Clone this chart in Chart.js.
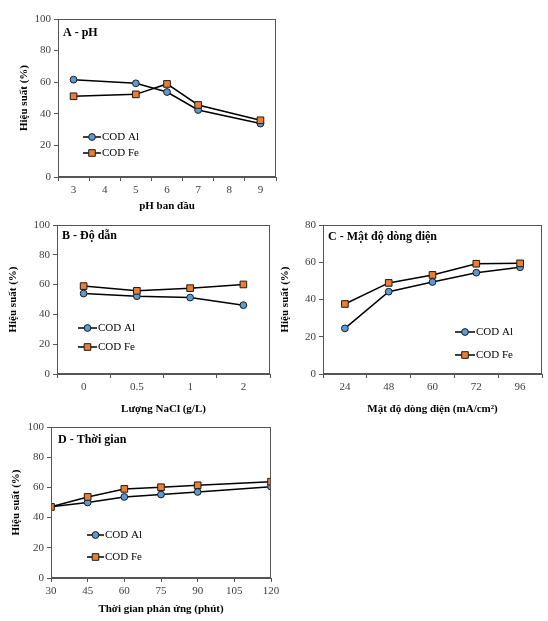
<!DOCTYPE html>
<html><head><meta charset="utf-8">
<script src="https://cdn.jsdelivr.net/npm/chart.js@4.4.1/dist/chart.umd.min.js"></script>
<style>
html,body{margin:0;padding:0;background:#fff;}
body{width:548px;height:621px;position:relative;overflow:hidden;}
canvas{position:absolute;}
</style></head><body>
<canvas id="cA" width="290" height="215" style="left:0;top:0;width:290px;height:215px"></canvas>
<canvas id="cB" width="285" height="208" style="left:0;top:212px;width:285px;height:208px"></canvas>
<canvas id="cC" width="273" height="208" style="left:275px;top:212px;width:273px;height:208px"></canvas>
<canvas id="cD" width="290" height="206" style="left:0;top:415px;width:290px;height:206px"></canvas>
<script>
// ---- data ----
const seriesNames = ['COD Al', 'COD Fe'];
const yTitle = 'Hiệu suất (%)';

const pHLabels = ['3', '4', '5', '6', '7', '8', '9'];
const pHAl = [61.6, null, 59.3, 53.8, 42.4, null, 33.8];
const pHFe = [51.1, null, 52.3, 58.9, 45.6, null, 35.9];

const naclLabels = ['0', '0.5', '1', '2'];
const naclAl = [54.0, 52.2, 51.3, 46.2];
const naclFe = [59.0, 55.8, 57.6, 60.1];

const currentLabels = ['24', '48', '60', '72', '96'];
const currentAl = [24.5, 44.2, 49.4, 54.4, 57.3];
const currentFe = [37.6, 48.9, 53.2, 59.2, 59.4];

const timeX = [30, 45, 60, 75, 90, 120];
const timeAl = [47.1, 50.0, 53.7, 55.3, 57.0, 60.5];
const timeFe = [47.1, 53.7, 59.0, 60.1, 61.4, 63.8];

// ---- styling ----
Chart.defaults.font.family = '"Liberation Serif", "Times New Roman", serif';
Chart.defaults.font.size = 11;
const AXC = '#555555';
const TICKC = '#404040';
const BLUE = '#5B9BD5';
const ORANGE = '#ED7D31';

function mkDatasets(al, fe) {
  return [
    { label: seriesNames[0], data: al, borderColor: '#000', borderWidth: 1.5,
      pointStyle: 'circle', pointRadius: 3.4, pointBackgroundColor: BLUE,
      pointBorderColor: '#1b1b1b', pointBorderWidth: 1, spanGaps: true, order: 1, tension: 0 },
    { label: seriesNames[1], data: fe, borderColor: '#000', borderWidth: 1.5,
      pointStyle: 'rect', pointRadius: 4.7, pointBackgroundColor: ORANGE,
      pointBorderColor: '#1b1b1b', pointBorderWidth: 1, spanGaps: true, order: 0, tension: 0 }
  ];
}

const decor = {
  id: 'decor',
  afterDraw(chart, args, o) {
    const { ctx, chartArea: a } = chart;
    ctx.save();
    ctx.strokeStyle = AXC; ctx.lineWidth = 1;
    const L = Math.round(a.left) + 0.5, T = Math.round(a.top) + 0.5;
    const R = Math.round(a.right) - 0.5, B = Math.round(a.bottom) - 0.5;
    ctx.strokeRect(L, T, R - L, B - T);
    ctx.fillStyle = '#000';
    ctx.textBaseline = 'middle'; ctx.textAlign = 'left';
    ctx.font = 'bold 12px "Liberation Serif", "Times New Roman", serif';
    ctx.fillText(o.title, a.left + o.tx, a.top + o.ty);
    ctx.font = '11px "Liberation Serif", "Times New Roman", serif';
    chart.data.datasets.forEach((ds, i) => {
      const y = o.absY ? o.ly[i] - o.canvasTop : a.bottom + o.ly[i];
      const x0 = o.lxAbs - o.canvasLeft;
      ctx.beginPath(); ctx.moveTo(x0, y); ctx.lineTo(x0 + o.lw, y);
      ctx.strokeStyle = '#000'; ctx.lineWidth = 1.5; ctx.stroke();
      const cx = x0 + o.lw / 2;
      ctx.fillStyle = ds.pointBackgroundColor; ctx.strokeStyle = '#1b1b1b'; ctx.lineWidth = 1;
      ctx.beginPath();
      if (ds.pointStyle === 'circle') ctx.arc(cx, y, 3.4, 0, Math.PI * 2);
      else ctx.rect(cx - 3.3, y - 3.3, 6.6, 6.6);
      ctx.fill(); ctx.stroke();
      ctx.fillStyle = '#000';
      ctx.fillText(ds.label, x0 + o.lw + 1, y + 0.5);
    });
    ctx.restore();
  }
};

function mkScales(cfg) {
  const x = {
    type: cfg.xType,
    offset: cfg.xType === 'category',
    grid: { display: true, drawOnChartArea: false, drawTicks: true, tickLength: 4, color: AXC, offset: cfg.xType === 'category' },
    border: { display: true, color: AXC, width: 1 },
    ticks: { color: TICKC, padding: 3, maxRotation: 0, autoSkip: false, font: { size: 11 } },
    title: { display: true, text: cfg.xTitle, color: '#000', font: { size: 11, weight: 'bold' }, padding: { top: 0, bottom: cfg.xtPad } },
    afterFit: s => { s.height = cfg.H; }
  };
  if (cfg.xType === 'linear') {
    x.min = cfg.xMin; x.max = cfg.xMax; x.ticks.stepSize = cfg.xStep;
  }
  const y = {
    min: 0, max: cfg.yMax,
    ticks: { stepSize: 20, color: TICKC, padding: 3, font: { size: 11 } },
    grid: { display: true, drawOnChartArea: false, drawTicks: true, tickLength: 4, color: AXC },
    border: { display: true, color: AXC, width: 1 },
    title: { display: true, text: yTitle, color: '#000', font: { size: 11, weight: 'bold' }, padding: { top: cfg.ytPad, bottom: 0 } },
    afterFit: s => { s.width = cfg.W; }
  };
  return { x, y };
}

function mkChart(id, cfg, data) {
  return new Chart(document.getElementById(id), {
    type: 'line',
    data: data,
    options: {
      responsive: false, animation: false, events: [],
      layout: { padding: { left: 0, top: cfg.T, right: cfg.R, bottom: 0 } },
      plugins: { legend: { display: false }, tooltip: { enabled: false }, decor: cfg.decor },
      scales: mkScales(cfg)
    },
    plugins: [decor]
  });
}

// A - pH
mkChart('cA', { xType: 'category', xTitle: 'pH ban đầu', yMax: 100, W: 58, H: 38, T: 19, R: 14, xtPad: 2.4, ytPad: 17.4,
  decor: { title: 'A - pH', tx: 5, ty: 14, absY: true, canvasTop: 0, canvasLeft: 0, lxAbs: 83, lw: 18, ly: [137, 153] } },
  { labels: pHLabels, datasets: mkDatasets(pHAl, pHFe) });

// B - NaCl
mkChart('cB', { xType: 'category', xTitle: 'Lượng NaCl (g/L)', yMax: 100, W: 57, H: 46, T: 13, R: 15, xtPad: 4.4, ytPad: 6.4,
  decor: { title: 'B - Độ dẫn', tx: 5, ty: 11, absY: true, canvasTop: 212, canvasLeft: 0, lxAbs: 78, lw: 19, ly: [328, 347] } },
  { labels: naclLabels, datasets: mkDatasets(naclAl, naclFe) });

// C - current density
mkChart('cC', { xType: 'category', xTitle: 'Mật độ dòng điện (mA/cm²)', yMax: 80, W: 48, H: 46, T: 13, R: 6, xtPad: 4.4, ytPad: 3.4,
  decor: { title: 'C - Mật độ dòng điện', tx: 5, ty: 12, absY: true, canvasTop: 212, canvasLeft: 275, lxAbs: 455, lw: 20, ly: [332, 355] } },
  { labels: currentLabels, datasets: mkDatasets(currentAl, currentFe) });

// D - time
mkChart('cD', { xType: 'linear', xMin: 30, xMax: 120, xStep: 15, xTitle: 'Thời gian phản ứng (phút)', yMax: 100, W: 51, H: 43, T: 12, R: 19, xtPad: 5.4, ytPad: 9.4,
  decor: { title: 'D - Thời gian', tx: 7, ty: 13, absY: true, canvasTop: 415, canvasLeft: 0, lxAbs: 87, lw: 17, ly: [535, 557] } },
  { datasets: mkDatasets(timeX.map((x, i) => ({ x: x, y: timeAl[i] })), timeX.map((x, i) => ({ x: x, y: timeFe[i] }))) });
</script>
</body></html>
